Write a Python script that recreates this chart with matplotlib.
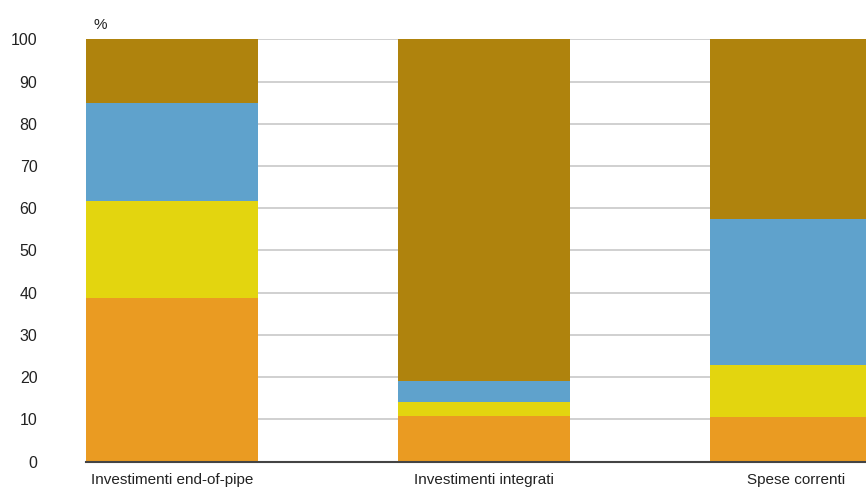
import matplotlib.pyplot as plt
import numpy as np

plt.rcParams['font.family'] = ['Liberation Sans Narrow', 'Liberation Sans', 'DejaVu Sans']

categorie = ["Investimenti end-of-pipe", "Investimenti integrati", "Spese correnti"]
# quote percentuali per componente (dal basso verso l'alto)
quota_1 = [38.8, 10.9, 10.6]
quota_2 = [22.9, 3.3, 12.4]
quota_3 = [23.2, 4.9, 34.4]
quota_4 = [15.1, 80.9, 42.6]
colori = ["#EA9B22", "#E3D50F", "#5FA2CC", "#AF830D"]
yticks = list(range(0, 101, 10))

fig = plt.figure(figsize=(8.66, 4.98), dpi=100)
ax = fig.add_axes([86 / 866, (498 - 461.7) / 498, 1 - 86 / 866, (461.7 - 39.3) / 498])

x = np.arange(len(categorie))
w = 0.551
base = np.zeros(len(categorie))
for vals, c in zip([quota_1, quota_2, quota_3, quota_4], colori):
    ax.bar(x, vals, w, bottom=base, color=c, zorder=2)
    base += np.array(vals)

ax.set_xlim(-w / 2, -w / 2 + (866 - 86) / 312)
ax.set_ylim(0, 100)
ax.set_yticks(yticks)
ax.set_yticklabels([str(t) for t in yticks], fontsize=11.5, color="#222222")
ax.set_xticks(x)
ax.set_xticklabels(categorie, fontsize=11, color="#222222")
ax.tick_params(axis="y", length=0, pad=35)
ax.tick_params(axis="x", length=0, pad=8)
ax.yaxis.grid(True, color="#c8c8c8", linewidth=1.2, zorder=0)
ax.set_axisbelow(True)
for s in ["top", "right", "left"]:
    ax.spines[s].set_visible(False)
ax.spines["bottom"].set_color("#444444")
ax.spines["bottom"].set_linewidth(1.5)
ax.spines["bottom"].set_zorder(3)

fig.text(93 / 866, 1 - 25 / 498, "%", fontsize=11, color="#222222", va="center")

fig.savefig("out.png", dpi=100)
